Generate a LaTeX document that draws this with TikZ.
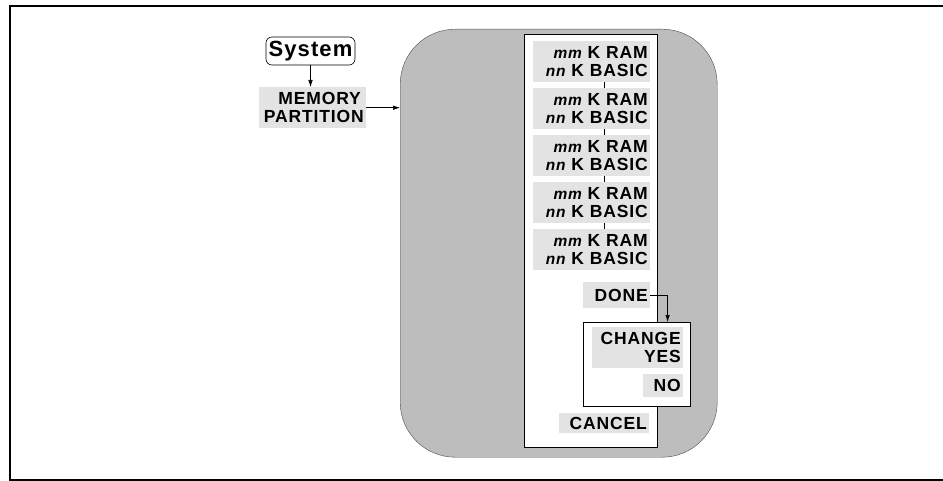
\documentclass[tikz,border=0pt]{standalone}
\usepackage{fontspec}
\setmainfont{Liberation Sans}[LetterSpace=5]
\usetikzlibrary{positioning,arrows.meta}

\definecolor{panelgray}{gray}{0.74}
\definecolor{labelgray}{gray}{0.89}
\newcommand{\memsize}[1]{{\fontsize{15.5}{18}\selectfont\itshape #1}}

\begin{document}
\begin{tikzpicture}[
  x=1pt, y=-1pt,
  font=\fontsize{17.5}{18}\selectfont\bfseries,
  panel/.style={draw=black!70,fill=panelgray,rounded corners=55pt,anchor=north west},
  menu/.style={draw,fill=white,anchor=north west,inner sep=0pt,line width=0.6pt},
  item/.style={fill=labelgray,align=right,anchor=north east,inner xsep=2pt,inner ysep=0pt},
  arrow/.style={-{Latex[length=7pt,width=4.5pt]},line width=0.6pt},
  link/.style={line width=0.6pt},
]
  \useasboundingbox (0,0) rectangle (943,481);

  % Open frame round the figure.
  \draw[line width=2pt] (950,6.5) -- (10,6.5) -- (10,479.5) -- (950,479.5);

  % Menu path on the left.
  \node[draw,rounded corners=6pt,minimum width=89,minimum height=28,inner sep=0pt,
        line width=0.6pt,font=\fontsize{22}{24}\selectfont\bfseries] (system) at (310.5,51) {System};
  \node[item,text width=97,minimum height=41,inner xsep=5pt] (memory) at (366,87) {MEMORY\\PARTITION};

  % Shaded panel with the partition list.
  \node[panel,minimum width=317,minimum height=428] (panel) at (400,29) {};
  \node[menu,minimum width=133,minimum height=413] (list) at (524,34) {};

  \node[item,text width=113,minimum height=41] (blk1) at (650,41) {\memsize{mm} K RAM\\\memsize{nn} K BASIC};
  \node[item,text width=113,minimum height=41] (blk2) at (650,88) {\memsize{mm} K RAM\\\memsize{nn} K BASIC};
  \node[item,text width=113,minimum height=41] (blk3) at (650,135) {\memsize{mm} K RAM\\\memsize{nn} K BASIC};
  \node[item,text width=113,minimum height=41] (blk4) at (650,182) {\memsize{mm} K RAM\\\memsize{nn} K BASIC};
  \node[item,text width=113,minimum height=41] (blk5) at (650,229) {\memsize{mm} K RAM\\\memsize{nn} K BASIC};

  \node[item,text width=63,minimum height=26] (done) at (650,282) {DONE};

  % Confirmation box.
  \node[menu,minimum width=107,minimum height=84] (confirm) at (583,322) {};
  \node[item,text width=87,minimum height=41] (change) at (683,327) {CHANGE\\YES};
  \node[item,text width=36,minimum height=23] (no) at (683,374) {NO};

  \node[item,text width=86,minimum height=20] (cancel) at (649,413) {CANCEL};

  % Connectors.
  \draw[arrow] (system) -- (system |- memory.north);
  \draw[arrow] (memory.east) -- (memory.east -| panel.west);
  \draw[link] ([xshift=-46]blk1.south east) -- ([xshift=-46]blk2.north east);
  \draw[link] ([xshift=-46]blk2.south east) -- ([xshift=-46]blk3.north east);
  \draw[link] ([xshift=-46]blk3.south east) -- ([xshift=-46]blk4.north east);
  \draw[link] ([xshift=-46]blk4.south east) -- ([xshift=-46]blk5.north east);
  \draw[arrow] (done.east) -| ([xshift=-23]confirm.north east);

\end{tikzpicture}
\end{document}
